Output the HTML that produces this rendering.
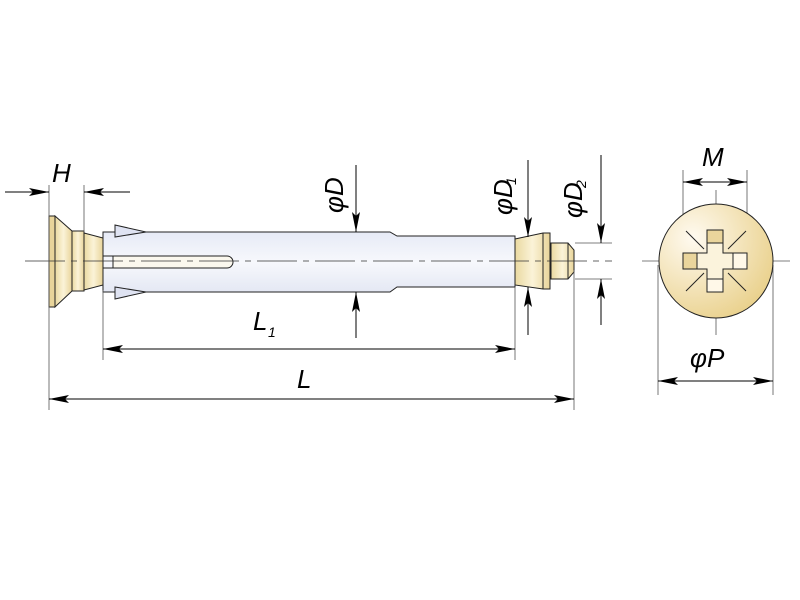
<!DOCTYPE html>
<html><head><meta charset="utf-8"><style>html,body{margin:0;padding:0;background:#fff}svg{display:block}</style></head><body>
<svg width="800" height="600" viewBox="0 0 800 600" xmlns="http://www.w3.org/2000/svg" font-family="Liberation Sans, sans-serif">
<defs>
<linearGradient id="sl" x1="0" y1="0" x2="0" y2="1"><stop offset="0" stop-color="#e6eaf6"/><stop offset="0.5" stop-color="#f7f8fc"/><stop offset="1" stop-color="#e4e8f4"/></linearGradient>
<linearGradient id="br" x1="0" y1="0" x2="1" y2="0"><stop offset="0" stop-color="#ead9a0"/><stop offset="0.5" stop-color="#fbf3d8"/><stop offset="1" stop-color="#e8d49a"/></linearGradient>
<radialGradient id="cg" cx="0.3" cy="0.3" r="0.8"><stop offset="0" stop-color="#fffaf0"/><stop offset="1" stop-color="#e9d08a"/></radialGradient>
<marker id="a" viewBox="0 0 20 8" refX="20" refY="4" markerWidth="20" markerHeight="8" markerUnits="userSpaceOnUse" orient="auto-start-reverse"><path d="M0,0 L20,4 L0,8 L4,4 Z" fill="#000"/></marker>
</defs>
<g stroke="#222" stroke-width="1">
<rect x="49" y="216" width="6" height="91" fill="#e8d49a"/>
<polygon points="55,216 72,231 72,291 55,307" fill="url(#br)"/>
<rect x="72" y="231" width="12" height="60" fill="url(#br)"/>
<polygon points="84,233 103,238 103,285 84,290" fill="url(#br)"/>
<path d="M103,232 H390 L397,236 H515 V287 H397 L390,292 H103 Z" fill="url(#sl)"/>
<path d="M113,256 H227 A6,6 0 0 1 227,268 H113" fill="#fbf8ee"/>
<line x1="103" y1="256" x2="113" y2="256"/><line x1="103" y1="268" x2="113" y2="268"/>
<line x1="113" y1="256" x2="113" y2="268"/>
<polygon points="115,225 146,232 115,237" fill="#dfe3f2"/>
<polygon points="115,287 146,292 115,299" fill="#dfe3f2"/>
<polygon points="515,239 543,233 550,233 550,289 543,289 515,285" fill="url(#br)"/>
<line x1="543" y1="233" x2="543" y2="289"/>
<polygon points="551,243 568,243 574,250 574,272 568,279 551,279" fill="url(#br)"/>
<line x1="568" y1="243" x2="568" y2="279"/>
</g>
<line x1="25" y1="261" x2="612" y2="261" stroke="#333" stroke-width="0.8" stroke-dasharray="40,6,6,6"/>
<g stroke="#555" stroke-width="0.8">
<line x1="49" y1="185" x2="49" y2="410"/><line x1="84" y1="185" x2="84" y2="232"/>
<line x1="103" y1="290" x2="103" y2="360"/><line x1="515" y1="287" x2="515" y2="360"/>
<line x1="574" y1="270" x2="574" y2="410"/>
<line x1="575" y1="243" x2="612" y2="243"/><line x1="575" y1="279" x2="612" y2="279"/>
<line x1="683" y1="170" x2="683" y2="262"/><line x1="747" y1="170" x2="747" y2="262"/>
<line x1="658" y1="265" x2="658" y2="395"/><line x1="773" y1="265" x2="773" y2="395"/>
<line x1="716" y1="190" x2="716" y2="335"/><line x1="642" y1="261" x2="790" y2="261"/>
</g>
<g stroke="#000" stroke-width="1" fill="none">
<line x1="5" y1="192" x2="49" y2="192" marker-end="url(#a)"/>
<line x1="130" y1="192" x2="84" y2="192" marker-end="url(#a)"/>
<line x1="356" y1="165" x2="356" y2="232" marker-end="url(#a)"/>
<line x1="356" y1="338" x2="356" y2="292" marker-end="url(#a)"/>
<line x1="528" y1="160" x2="528" y2="237" marker-end="url(#a)"/>
<line x1="528" y1="335" x2="528" y2="287" marker-end="url(#a)"/>
<line x1="601" y1="155" x2="601" y2="243" marker-end="url(#a)"/>
<line x1="601" y1="325" x2="601" y2="279" marker-end="url(#a)"/>
<line x1="103" y1="349" x2="515" y2="349" marker-start="url(#a)" marker-end="url(#a)"/>
<line x1="49" y1="399" x2="574" y2="399" marker-start="url(#a)" marker-end="url(#a)"/>
<line x1="683" y1="182" x2="747" y2="182" marker-start="url(#a)" marker-end="url(#a)"/>
<line x1="658" y1="381" x2="773" y2="381" marker-start="url(#a)" marker-end="url(#a)"/>
</g>
<circle cx="716" cy="261" r="57" fill="url(#cg)" stroke="#222"/>
<g stroke="#222" stroke-width="1">
<line x1="704" y1="249" x2="686" y2="231"/><line x1="728" y1="249" x2="746" y2="231"/>
<line x1="704" y1="273" x2="686" y2="291"/><line x1="728" y1="273" x2="746" y2="291"/>
<path d="M707,230 H723 V253 H747 V269 H723 V292 H707 V269 H683 V253 H707 Z" fill="#fbf3dc"/>
<rect x="707" y="230" width="16" height="13" fill="#ead59c"/>
<rect x="683" y="253" width="14" height="16" fill="#ead59c"/>
<rect x="733" y="253" width="14" height="16" fill="#fff8e8"/>
<rect x="707" y="279" width="16" height="13" fill="#fff8e8"/>
</g>
<g font-style="italic" font-size="26" fill="#000">
<text x="52" y="182">H</text>
<text x="253" y="330">L</text><text x="268" y="337" font-size="14">1</text>
<text x="297" y="388">L</text>
<text x="702" y="166">M</text>
<text x="690" y="367">φP</text>
<text transform="translate(343,213) rotate(-90)">φD</text>
<text transform="translate(512,215) rotate(-90)">φD</text><text transform="translate(516,185) rotate(-90)" font-size="14">1</text>
<text transform="translate(582,218) rotate(-90)">φD</text><text transform="translate(586,188) rotate(-90)" font-size="14">2</text>
</g>
</svg>
</body></html>
